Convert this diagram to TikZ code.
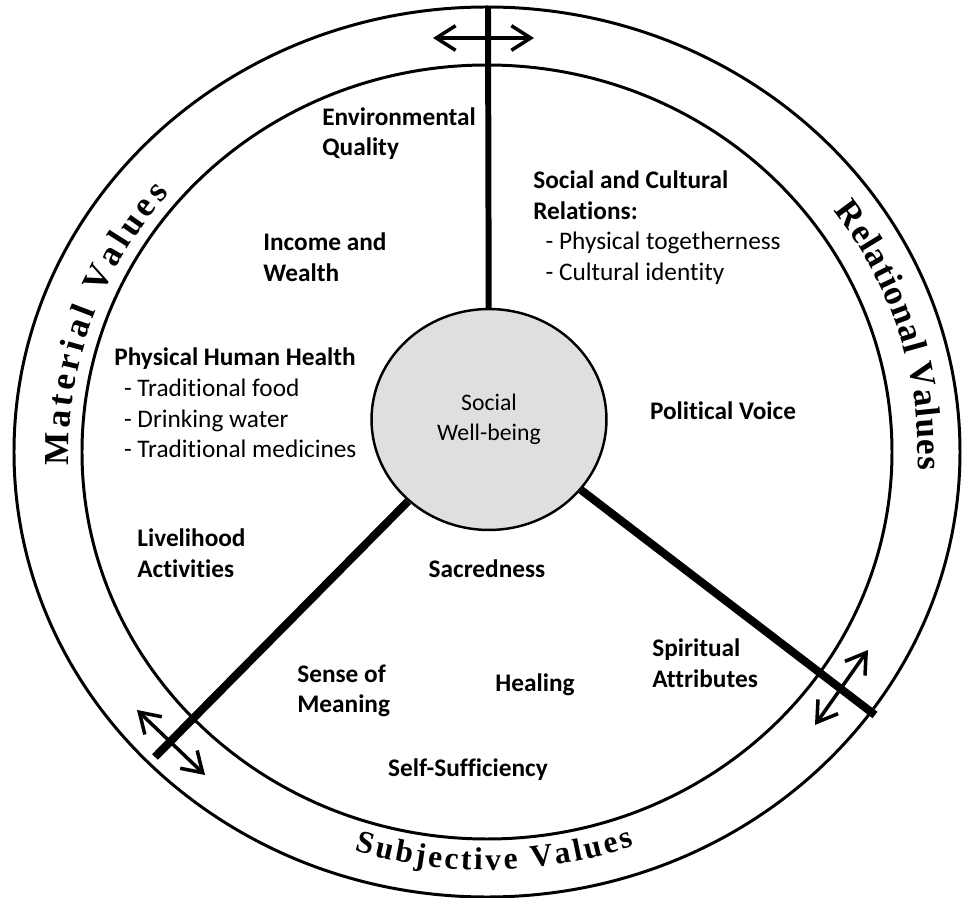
\documentclass[tikz,border=0pt]{standalone}
\usepackage{fontspec}
\setmainfont{Carlito}[Ligatures=NoCommon]
\newfontfamily\ringfont{Liberation Serif}
\usetikzlibrary{arrows.meta,shapes.geometric,decorations.text}

\begin{document}
\begin{tikzpicture}[
        x=0.02cm, y=0.02cm,
        value/.style={font=\bfseries\fontsize{14.4}{17.4}\selectfont, align=left, inner sep=0pt},
        ring/.style={line width=1.7pt},
        spoke/.style={line width=4.6pt},
        swap/.style={{Straight Barb[length=11pt,width=14pt,line width=2pt]}-{Straight Barb[length=11pt,width=14pt,line width=2pt]}, line width=2pt},
        ringtext/.style 2 args={decorate, decoration={text along path, text align=fit to path,
            text={|\ringfont\bfseries\fontsize{#1}{#1}\selectfont|#2}}}
    ]
    \useasboundingbox (-487,-446) rectangle (476,452);

    % Outer and inner rings
    \draw[ring] (0,0) ellipse [x radius=473, y radius=445];
    \draw[ring] (0,0) ellipse [x radius=405, y radius=387];

    % Centre
    \node (wb) at (2,32.5) [ellipse, draw, line width=1.4pt, fill=gray!25, minimum width=4.7cm, minimum height=4.42cm, inner sep=0pt, align=center, font=\fontsize{13.5}{17}\selectfont] {Social\\Well-being};

    % Spoke ends and arrow ends
    \coordinate (topend) at (1,445);
    \coordinate (llend) at (-332,-305);
    \coordinate (lrend) at (388,-263);
    \coordinate (ta) at (-54,414);
    \coordinate (tb) at (47,414);
    \coordinate (la) at (-350,-258);
    \coordinate (lb) at (-282,-323);
    \coordinate (ra) at (328,-273);
    \coordinate (rb) at (381,-198);

    % Spokes
    \draw[spoke, line width=3.4pt] (wb) -- (topend);
    \draw[spoke] (wb) -- (llend);
    \draw[spoke] (wb) -- (lrend);

    % Two-way arrows across the spokes
    \draw[swap] (ta) -- (tb);
    \draw[swap] (la) -- (lb);
    \draw[swap] (ra) -- (rb);

    % Ring labels
    \path[ringtext={20}{Material Values}] (182:418 and 398) arc[start angle=182, end angle=139.5, x radius=418, y radius=398];
    \path[ringtext={20}{Relational Values}] (36.5:431 and 405) arc[start angle=36.5, end angle=-2.5, x radius=431, y radius=405];
    \path[ringtext={18}{Subjective Values}] (252.5:440 and 418) arc[start angle=252.5, end angle=289.5, x radius=440, y radius=418];

    % Material values
    \node (envq) at (-165,318.5) [value, anchor=west] {Environmental\\Quality};
    \node (income) at (-224,195) [value, anchor=west] {Income and\\Wealth};
    \node (health) at (-373,49) [value, anchor=west] {Physical Human Health\\
        {\mdseries\hspace*{5.5pt}- Traditional food}\\
        {\mdseries\hspace*{5.5pt}- Drinking water}\\
        {\mdseries\hspace*{5.5pt}- Traditional medicines}};
    \node (livelihood) at (-350,-101) [value, anchor=west] {Livelihood\\Activities};

    % Relational values
    \node (social) at (46,224.5) [value, anchor=west] {Social and Cultural\\Relations:\\
        {\mdseries\hspace*{7pt}- Physical togetherness}\\
        {\mdseries\hspace*{7pt}- Cultural identity}};
    \node (voice) at (236,41) [value] {Political Voice};
    \node (spirit) at (165,-211) [value, anchor=west] {Spiritual\\Attributes};

    % Subjective values
    \node (sacred) at (0,-117) [value] {Sacredness};
    \node (meaning) at (-190,-239) [value, anchor=west] {Sense of\\Meaning};
    \node (healing) at (48,-233) [value] {Healing};
    \node (selfsuff) at (-19,-318) [value] {Self-Sufficiency};

\end{tikzpicture}
\end{document}
